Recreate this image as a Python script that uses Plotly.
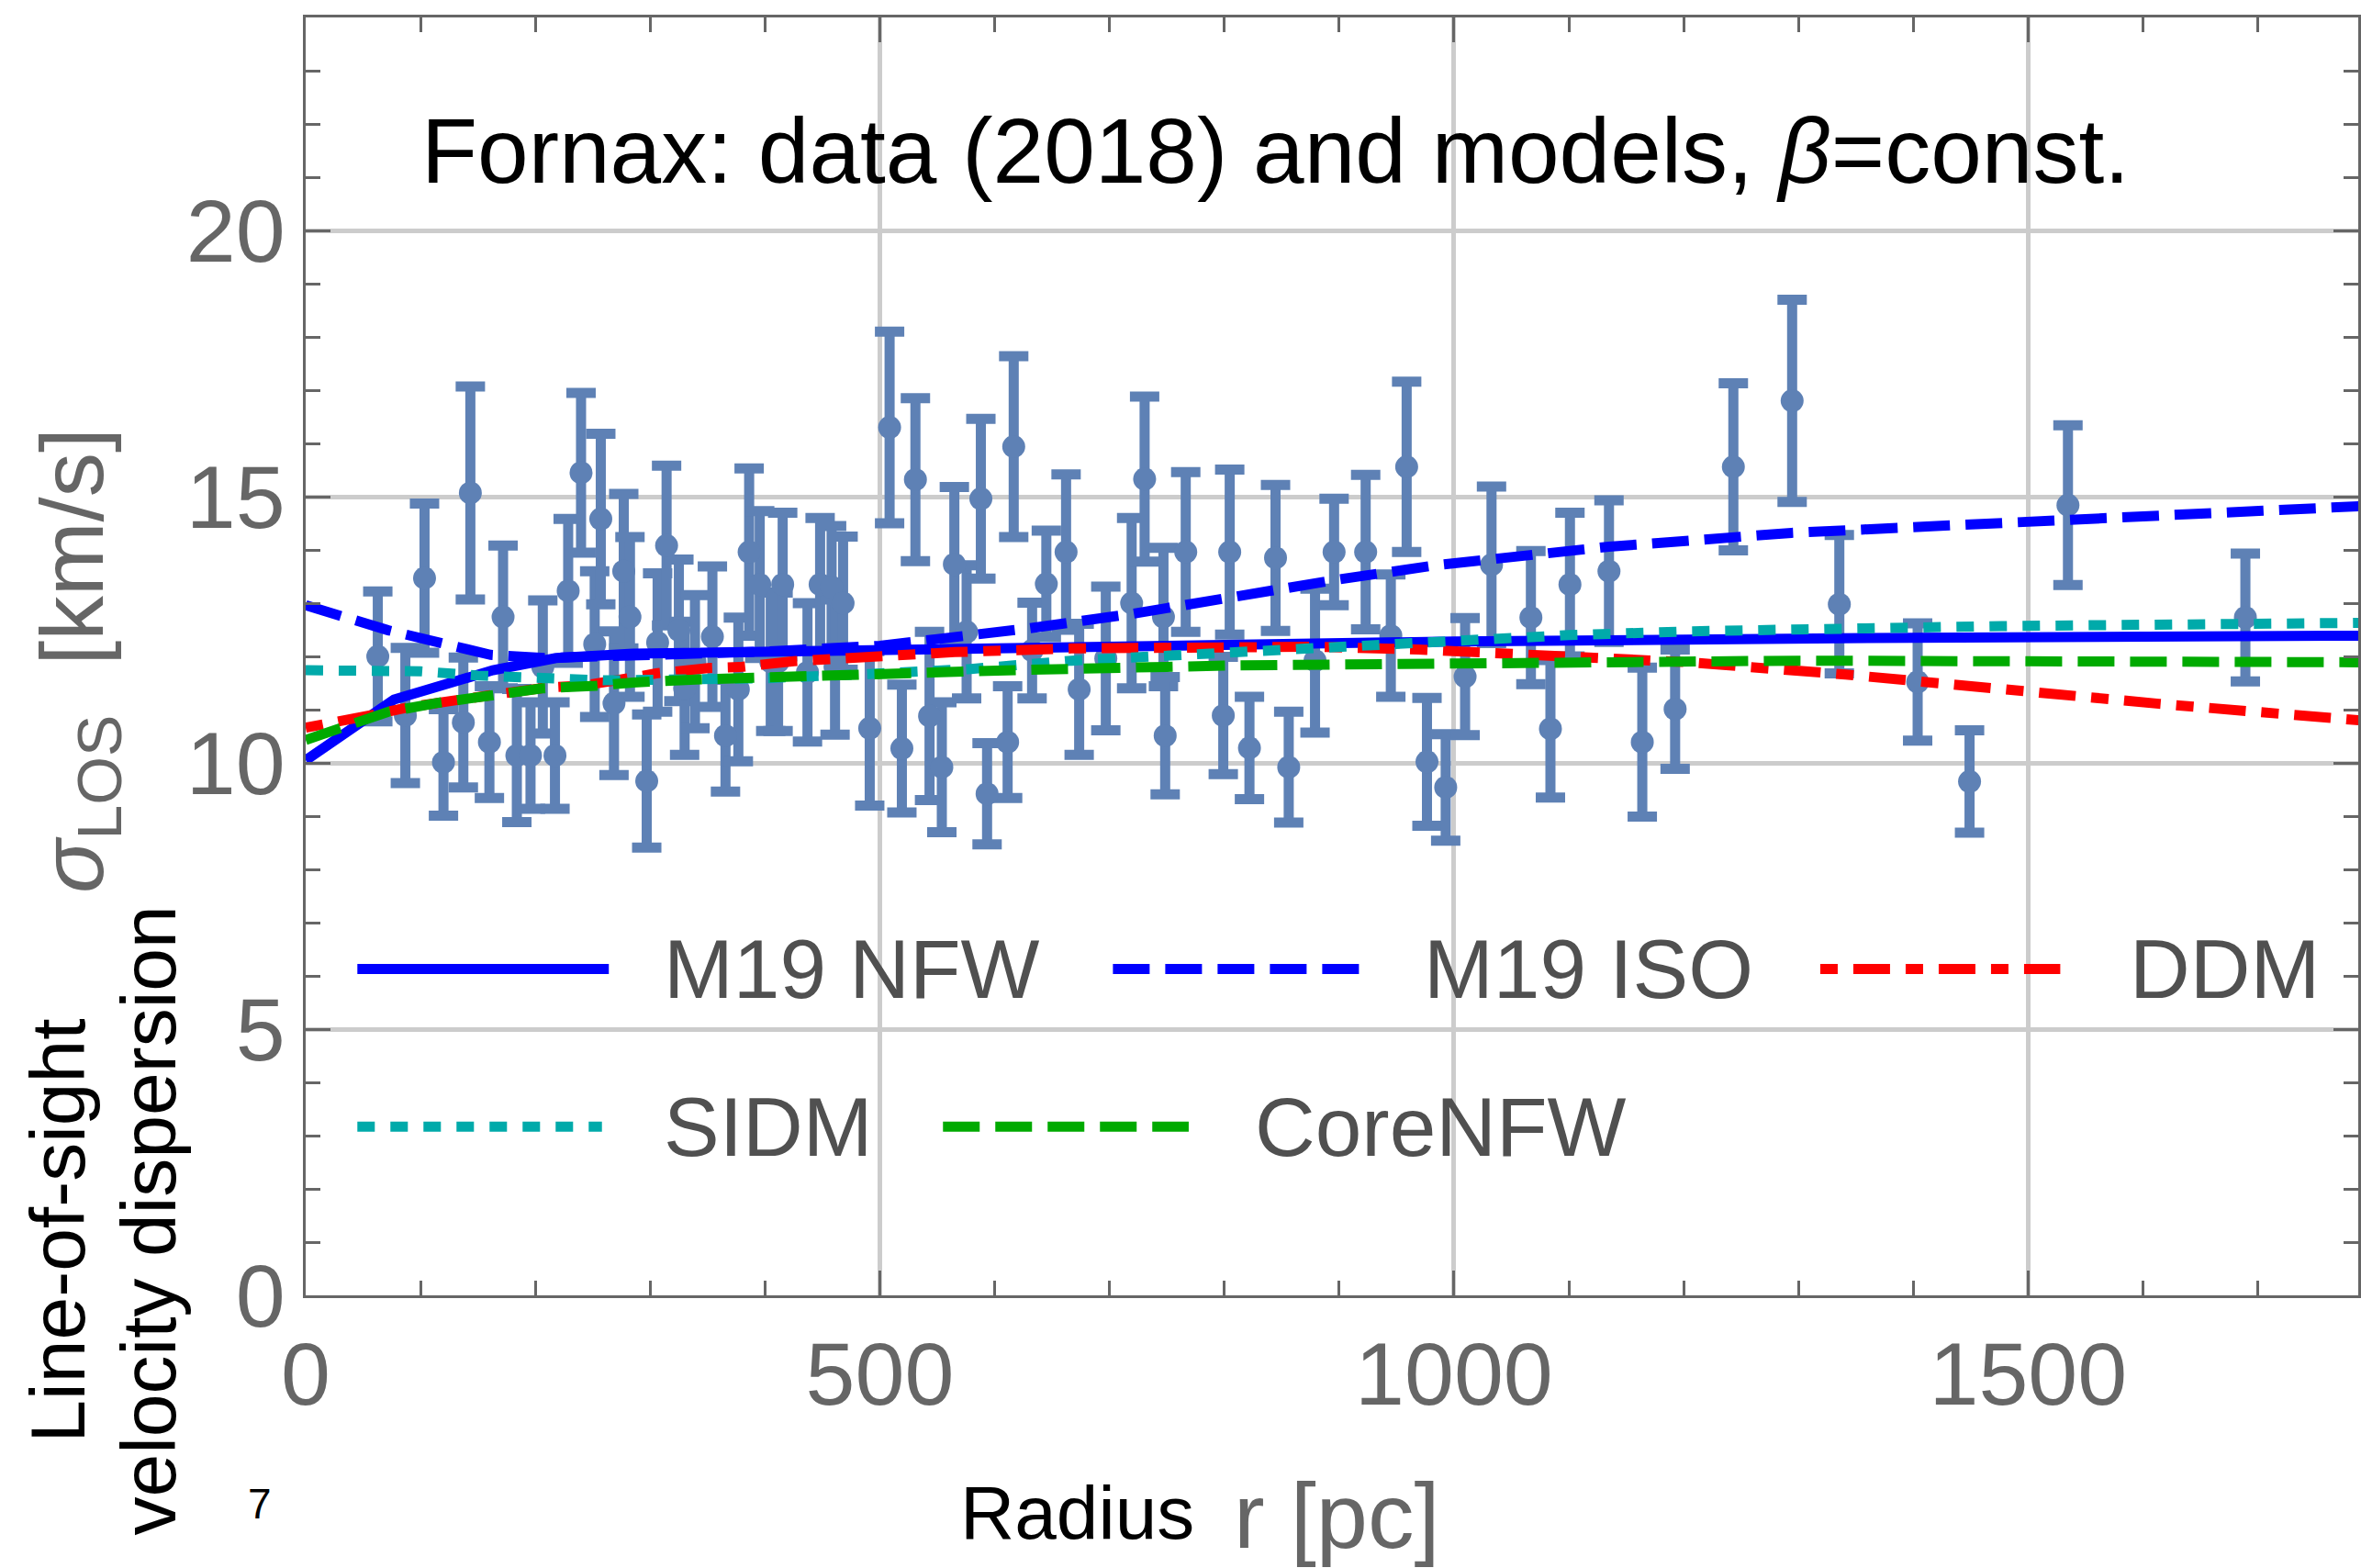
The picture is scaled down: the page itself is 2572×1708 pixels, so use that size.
import plotly.graph_objects as go

# ---------------- data ----------------
r_data = [62.8, 86.8, 103.5, 120, 137.3, 143.4, 160, 171.9, 183.9, 195.8, 206.5, 217.1,
          228.6, 239.8, 251.7, 257, 268.5, 277, 282.4, 297, 306.5, 314.3, 325, 330, 339,
          354.2, 365.6, 376.8, 386.2, 395.4, 405, 411.4, 415.4, 437, 448, 458, 461, 468,
          491.2, 508.5, 519.2, 531, 543.3, 554, 564.9, 575.6, 588, 593.4, 611.3, 616.6,
          632.6, 645, 662.2, 673.6, 696.8, 719.3, 730.6, 747, 748.5, 766.4, 799.1, 804.7,
          821.9, 844.6, 856.1, 879, 895.6, 923.1, 945, 958.8, 976.5, 992.8, 1009.7, 1032.7,
          1067, 1084, 1101, 1135, 1164, 1192.6, 1243.3, 1294.5, 1335.6, 1403.8, 1449,
          1534.7, 1689.2]
sigma_data = [12.0, 10.89, 13.47, 10.01, 10.76, 15.07, 10.39, 12.74, 10.14, 10.14, 11.8, 10.14,
              13.23, 15.45, 12.23, 14.58, 11.12, 13.6, 12.74, 9.66, 12.26, 14.08, 12.49, 11.4, 11.9,
              12.37, 10.51, 11.38, 13.96, 13.35, 11.9, 11.9, 13.35, 11.7, 13.35, 13.3, 11.8, 13.0,
              10.65, 16.3, 10.27, 15.32, 10.88, 9.92, 13.73, 12.46, 14.96, 9.42, 10.39, 15.94,
              12.11, 13.36, 13.96, 11.38, 11.96, 13.0, 15.33, 12.74, 10.51, 13.96, 10.89, 13.96,
              10.28, 13.85, 9.92, 11.92, 13.96, 13.96, 12.39, 15.56, 10.02, 9.54, 11.62, 13.72,
              12.73, 10.64, 13.35, 13.6, 10.39, 11.01, 15.56, 16.8, 12.98, 11.52, 9.65,
              14.84, 12.73]
err_data = [1.22, 1.27, 1.4, 1.0, 1.22, 2.0, 1.05, 1.34, 1.25, 1.0, 1.25, 1.0,
            1.35, 1.5, 1.37, 1.6, 1.35, 1.45, 1.5, 1.25, 1.3, 1.5, 1.33, 1.25, 1.25,
            1.32, 1.05, 1.35, 1.57, 1.38, 1.3, 1.3, 1.35, 1.3, 1.25, 1.15, 1.27, 1.25,
            1.45, 1.8, 1.2, 1.53, 1.58, 1.22, 1.45, 1.25, 1.5, 0.95, 1.05, 1.7,
            0.9, 1.0, 1.46, 1.23, 1.35, 1.6, 1.55, 1.3, 1.1, 1.5, 1.1, 1.55,
            0.96, 1.37, 1.04, 1.35, 1.0, 1.45, 1.15, 1.6, 1.2, 1.0, 1.1, 1.47,
            1.25, 1.29, 1.35, 1.33, 1.4, 1.12, 1.57, 1.9, 1.3, 1.1, 0.96,
            1.5, 1.2]

r_nfw = [0, 77, 163, 218, 285, 450, 565, 750, 1000, 1400, 1788]
s_nfw = [10.05, 11.19, 11.74, 11.97, 12.05, 12.11, 12.16, 12.22, 12.28, 12.35, 12.39]

r_iso = [0, 72, 116, 161, 208, 250, 300, 400, 500, 540, 631, 720, 809, 898, 987, 1032,
         1135, 1294, 1535, 1695, 1788]
s_iso = [12.96, 12.49, 12.26, 12.03, 11.97, 11.99, 12.04, 12.09, 12.2, 12.3, 12.53, 12.8,
         13.13, 13.44, 13.72, 13.81, 14.06, 14.32, 14.57, 14.72, 14.82]

r_ddm = [0, 35, 65, 91, 139, 167, 212, 241, 284, 305, 350, 378, 425, 453, 498, 528, 565,
         667, 785, 880, 969, 1068, 1204, 1341, 1477, 1614, 1788]
s_ddm = [10.66, 10.79, 10.93, 11.05, 11.22, 11.29, 11.42, 11.45, 11.6, 11.68, 11.78, 11.8,
         11.91, 11.94, 12.03, 12.05, 12.08, 12.15, 12.18, 12.18, 12.13, 12.03, 11.89, 11.66,
         11.38, 11.11, 10.8]

r_sidm = [0, 100, 150, 200, 260, 300, 400, 490, 577, 667, 738, 809, 880, 950, 1005, 1100,
          1204, 1477, 1788]
s_sidm = [11.74, 11.72, 11.64, 11.58, 11.55, 11.56, 11.59, 11.67, 11.76, 11.92, 12.0, 12.07,
          12.19, 12.26, 12.32, 12.4, 12.47, 12.57, 12.63]

r_core = [0, 27, 72, 116, 161, 206, 253, 285, 344, 390, 436, 481, 526, 564, 630, 810, 990,
          1300, 1788]
s_core = [10.43, 10.62, 10.96, 11.13, 11.28, 11.4, 11.45, 11.51, 11.57, 11.6, 11.63, 11.67,
          11.69, 11.73, 11.75, 11.83, 11.88, 11.92, 11.89]

x_ticks = [0, 500, 1000, 1500]
y_ticks = [0, 5, 10, 15, 20]

# ---------------- styles ----------------
PT = "#5E81B5"
FONT = "Liberation Sans, Arial, Helvetica, sans-serif"
GRAY = "#666666"
models = [
    ("M19 NFW", r_nfw, s_nfw, "#0000FF", "solid"),
    ("M19 ISO", r_iso, s_iso, "#0000FF", "40px,17px"),
    ("DDM", r_ddm, s_ddm, "#FF0000", "19px,17px,40px,17px"),
    ("SIDM", r_sidm, s_sidm, "#00AAAA", "19px,17px"),
    ("CoreNFW", r_core, s_core, "#00AA00", "40px,17px"),
]
LW = 11

fig = go.Figure()
fig.add_trace(go.Scatter(
    x=r_data, y=sigma_data, mode="markers",
    marker=dict(size=25, color=PT),
    error_y=dict(type="data", array=err_data, visible=True, color=PT, thickness=11, width=16),
    showlegend=False, cliponaxis=True))
for name, rx, sy, col, dash in models:
    fig.add_trace(go.Scatter(x=rx, y=sy, mode="lines", name=name,
                             line=dict(color=col, width=LW, dash=dash), showlegend=False))

# ---------------- hand-made legend (inside the frame) ----------------
leg_rows = {"M19 NFW": (6.13, 45, 264, 310), "M19 ISO": (6.13, 703, 919, 972),
            "DDM": (6.13, 1319, 1528, 1587), "SIDM": (3.17, 45, 258, 310),
            "CoreNFW": (3.17, 555, 769, 825)}
shapes = []
annotations = []
for name, rx, sy, col, dash in models:
    yy, x0, x1, xt = leg_rows[name]
    shapes.append(dict(type="line", xref="x", yref="y", x0=x0, x1=x1, y0=yy, y1=yy,
                       line=dict(color=col, width=LW, dash=dash)))
    annotations.append(dict(xref="x", yref="y", x=xt, y=yy, text=name, showarrow=False,
                            xanchor="left", yanchor="middle",
                            font=dict(family=FONT, size=91, color="#505050")))

# title inside plot
annotations.append(dict(xref="x", yref="y", x=844.6, y=21.5,
                        text="Fornax: data (2018) and models, <i>β</i>=const.",
                        showarrow=False, xanchor="center", yanchor="middle",
                        font=dict(family=FONT, size=100, color="black")))
# axis labels
annotations.append(dict(xref="paper", yref="paper", x=-0.111, y=0.497,
                        text="<i>σ</i><sub>LOS</sub>  [km/s]", textangle=-90, showarrow=False,
                        xanchor="center", yanchor="middle",
                        font=dict(family=FONT, size=97, color=GRAY)))
annotations.append(dict(xref="paper", yref="paper", x=(63 - 333) / 2239, y=(1410.7 - 1340) / 1391.8,
                        text="Line-of-sight", textangle=-90, showarrow=False,
                        xanchor="center", yanchor="middle",
                        font=dict(family=FONT, size=84, color="black")))
annotations.append(dict(xref="paper", yref="paper", x=(162 - 333) / 2239, y=(1410.7 - 1329) / 1391.8,
                        text="velocity dispersion", textangle=-90, showarrow=False,
                        xanchor="center", yanchor="middle",
                        font=dict(family=FONT, size=84, color="black")))
annotations.append(dict(xref="paper", yref="paper", x=(283 - 333) / 2239, y=(1410.7 - 1638) / 1391.8,
                        text="7", showarrow=False, xanchor="center", yanchor="middle",
                        font=dict(family=FONT, size=46, color="black")))
annotations.append(dict(xref="paper", yref="paper", x=(1045 - 333) / 2239, y=(1410.7 - 1647) / 1391.8,
                        text="Radius", showarrow=False, xanchor="left", yanchor="middle",
                        font=dict(family=FONT, size=82, color="black")))
annotations.append(dict(xref="paper", yref="paper", x=(1343 - 333) / 2239, y=(1410.7 - 1651) / 1391.8,
                        text="r [pc]", showarrow=False, xanchor="left", yanchor="middle",
                        font=dict(family=FONT, size=101, color=GRAY)))

axis_common = dict(showline=True, linecolor=GRAY, linewidth=3, mirror="allticks",
                   ticks="inside", ticklen=27, tickwidth=3, tickcolor=GRAY,
                   showgrid=True, gridcolor="#CCCCCC", gridwidth=5, zeroline=False,
                   tickfont=dict(family=FONT, size=97, color=GRAY))

fig.update_layout(
    width=2572, height=1708,
    margin=dict(l=333, r=0, t=19, b=297, pad=0),
    paper_bgcolor="white", plot_bgcolor="white",
    shapes=shapes, annotations=annotations, showlegend=False,
    xaxis=dict(range=[0, 1787.5], tickvals=x_ticks, ticktext=[str(v) for v in x_ticks],
               minor=dict(dtick=100, tick0=0, ticks="inside", ticklen=16, tickwidth=3,
                          tickcolor=GRAY, showgrid=False),
               **axis_common),
    yaxis=dict(range=[0, 24], tickvals=y_ticks, ticktext=[str(v) for v in y_ticks],
               minor=dict(dtick=1, tick0=0, ticks="inside", ticklen=16, tickwidth=3,
                          tickcolor=GRAY, showgrid=False),
               **axis_common),
)

fig.write_html("out.html")
